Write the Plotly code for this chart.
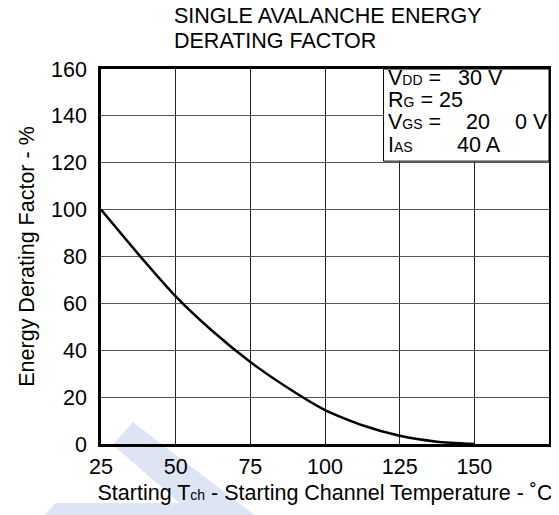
import plotly.graph_objects as go

# Data
temp_c = [25, 37.5, 50, 62.5, 75, 87.5, 100, 112.5, 125, 137.5, 150]
derating_pct = [100, 81, 63, 48, 35, 24, 14.5, 8, 3.5, 1, 0]
x_ticks = [25, 50, 75, 100, 125, 150]
y_ticks = [0, 20, 40, 60, 80, 100, 120, 140, 160]

OFF = 8  # page body margin offset
W, H = 559 - OFF, 515 - OFF
# plot area in page pixels: x 101..552, y 69..444
PW, PH = 451, 375
L, T = 101 - OFF, 69 - OFF
R = W - L - PW
B = H - T - PH

def px(x):
    return (x - OFF - L) / PW

def py(y):
    return (T + PH - (y - OFF)) / PH

FONT = "Liberation Sans, Arial, sans-serif"
FS = 21.5
SUB = '<span style="font-size:14px">{}</span>'

fig = go.Figure()
fig.add_trace(go.Scatter(x=temp_c, y=derating_pct, mode="lines",
                         line=dict(color="black", width=2.5, shape="spline", smoothing=0.6),
                         showlegend=False, hoverinfo="skip"))

axis_common = dict(showline=True, mirror=True, linecolor="black", linewidth=2.5,
                   showgrid=True, zeroline=False,
                   ticks="", tickfont=dict(family=FONT, size=FS, color="black"))

fig.update_xaxes(range=[25, 175], tickvals=x_ticks, ticktext=[str(v) for v in x_ticks],
                 ticklabelstandoff=1, gridcolor="#222222", gridwidth=1,
                 title=dict(text="Starting T" + SUB.format("ch") + " - Starting Channel Temperature - ˚C",
                            font=dict(family=FONT, size=FS, color="black"), standoff=8),
                 **axis_common)
fig.update_yaxes(range=[0, 160], tickvals=y_ticks, ticktext=[str(v) for v in y_ticks],
                 ticklabelstandoff=7, gridcolor="#555555", gridwidth=1,
                 title=dict(text="Energy Derating Factor - %",
                            font=dict(family=FONT, size=FS, color="black"), standoff=11),
                 **axis_common)

shapes = []
# watermark
wm = "#dde4f4"
p1 = [(133, 422), (262, 520), (200, 520), (113, 445)]
p2 = [(40, 520), (55, 503), (205, 503), (222, 520)]
for poly in (p1, p2):
    path = "M " + " L ".join(f"{px(a):.4f},{py(b):.4f}" for a, b in poly) + " Z"
    shapes.append(dict(type="path", path=path, xref="paper", yref="paper",
                       fillcolor=wm, line=dict(width=0), layer="below"))
# conditions box
shapes.append(dict(type="rect", xref="x", yref="y", x0=119.6, x1=175, y0=120.7, y1=160,
                   fillcolor="white", line=dict(color="black", width=1), layer="between"))
fig.update_layout(shapes=shapes)

ann = []
def txt(s, x, y, anchor="left"):
    ann.append(dict(text=s, x=px(x), y=py(y), xref="paper", yref="paper",
                    xanchor=anchor, yanchor="middle", showarrow=False,
                    font=dict(family=FONT, size=FS, color="black")))

# title
txt("SINGLE AVALANCHE ENERGY", 172, 16)
txt("DERATING FACTOR", 172, 41)
# conditions
rows = [78, 100, 122, 145]
txt("V" + SUB.format("DD") + " =", 388, rows[0])
txt("30 V", 458, rows[0])
txt("R" + SUB.format("G") + " = 25", 388, rows[1])
txt("V" + SUB.format("GS") + " =", 388, rows[2])
txt("20", 466, rows[2])
txt("0 V", 516, rows[2])
txt("I" + SUB.format("AS"), 388, rows[3])
txt("40 A", 457, rows[3])

fig.update_layout(annotations=ann, width=W, height=H,
                  margin=dict(l=L, r=R, t=T, b=B, pad=0),
                  paper_bgcolor="white", plot_bgcolor="white",
                  font=dict(family=FONT, size=FS, color="black"))

fig.write_html("out.html")
